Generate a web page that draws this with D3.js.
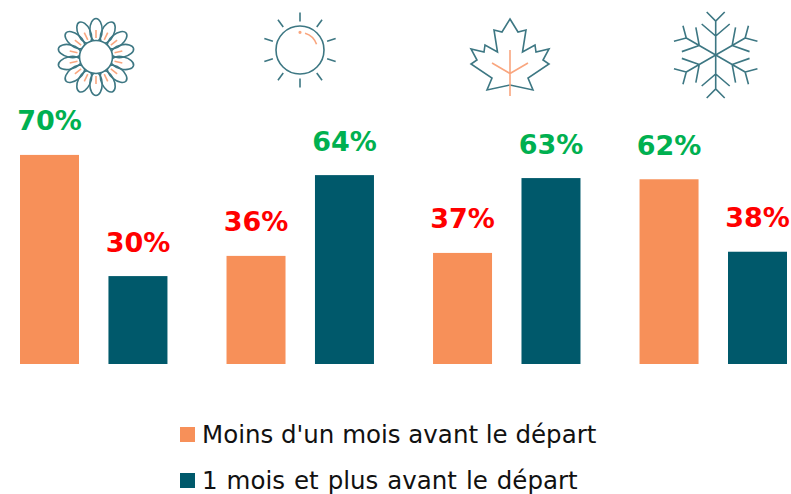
<!DOCTYPE html>
<html lang="fr">
<head>
<meta charset="utf-8">
<style>
  html, body { margin: 0; padding: 0; background: #fff; }
  svg { display: block; }
</style>
<script src="https://cdn.jsdelivr.net/npm/d3@7"></script>
</head>
<body>
<div id="chart"></div>
<script>
const seasons = ['printemps', 'ete', 'automne', 'hiver'];
const series = ['Moins d\'un mois avant le départ', '1 mois et plus avant le départ'];
// the labels show them rounded
const moins_un_mois = [70.4, 36.4, 37.4, 62.2];
const un_mois_et_plus = [29.6, 63.6, 62.6, 37.8];

const width = 791;
const height = 494;
const baseline = 364;
const px_per_percent = 2.97;

const colors = ['#f79059', '#00596b'];
const line_color = '#3d7783';
const accent_color = '#f9a67f';
const label_font = '"DejaVu Sans", sans-serif';

const x_group = d3.scaleBand()
  .domain(seasons)
  .range([20, 787])
  .paddingInner(0.286);
const x_bar = d3.scaleBand()
  .domain(series)
  .range([0, x_group.bandwidth()])
  .paddingInner(0.333);
const y_scale = d3.scaleLinear()
  .domain([0, 100])
  .range([baseline, baseline - 100 * px_per_percent]);

const svg = d3.select('#chart')
  .append('svg')
    .attr('width', width)
    .attr('height', height);

let rows = [];
seasons.forEach((s, i) => {
  rows.push({ season: s, serie: series[0], value: moins_un_mois[i] });
  rows.push({ season: s, serie: series[1], value: un_mois_et_plus[i] });
});

svg.selectAll('rect.bar')
    .data(rows)
  .join('rect')
    .attr('class', 'bar')
    .attr('x', d => x_group(d.season) + x_bar(d.serie))
    .attr('y', d => y_scale(d.value))
    .attr('width', x_bar.bandwidth())
    .attr('height', d => baseline - y_scale(d.value))
    .attr('fill', d => colors[series.indexOf(d.serie)]);

// green for the majority of the season, red for the other one
svg.selectAll('text.value')
    .data(rows)
  .join('text')
    .attr('class', 'value')
    .attr('x', d => x_group(d.season) + x_bar(d.serie) + x_bar.bandwidth() / 2)
    .attr('y', d => y_scale(d.value) - 24.5)
    .attr('text-anchor', 'middle')
    .attr('font-family', label_font)
    .attr('font-weight', 'bold')
    .attr('font-size', 27)
    .attr('fill', d => d.value >= 50 ? '#00b050' : '#ff0000')
    .text(d => Math.round(d.value) + '%');

// legend
const legend = svg.selectAll('g.legend')
    .data(series)
  .join('g')
    .attr('class', 'legend')
    .attr('transform', (d, i) => 'translate(180,' + (427 + i * 46) + ')');
legend.append('rect')
  .attr('width', 15)
  .attr('height', 15)
  .attr('fill', (d, i) => colors[i]);
legend.append('text')
  .attr('x', 22)
  .attr('y', 15.5)
  .attr('font-family', label_font)
  .attr('font-size', 24.5)
  .attr('word-spacing', (d, i) => i ? 1.2 : 0)
  .attr('fill', '#111')
  .text(d => d);

// season icons
let icon = (x, y) => svg.append('g')
  .attr('transform', 'translate(' + x + ',' + y + ')')
  .attr('fill', 'none')
  .attr('stroke', line_color)
  .attr('stroke-width', 1.6);

// flower
const flower = icon(96, 57);
const petals = d3.range(14).map(i => i * 360 / 14);
flower.selectAll('ellipse')
    .data(petals)
  .join('ellipse')
    .attr('cx', 0)
    .attr('cy', -27)
    .attr('rx', 6.2)
    .attr('ry', 11.5)
    .attr('transform', d => 'rotate(' + d + ')');
flower.append('circle')
  .attr('r', 16.5)
  .attr('fill', '#fff');
flower.selectAll('line')
    .data(petals)
  .join('line')
    .attr('y1', -19)
    .attr('y2', -27)
    .attr('stroke', accent_color)
    .attr('transform', d => 'rotate(' + d + ')');

// sun
const sun = icon(300, 50);
sun.append('circle').attr('r', 24);
sun.selectAll('line')
    .data(d3.range(10).map(i => i * 36))
  .join('line')
    .attr('y1', -28.5)
    .attr('y2', -37.5)
    .attr('transform', d => 'rotate(' + d + ')');
sun.append('circle')
  .attr('cy', -17.7)
  .attr('r', 0.8)
  .attr('fill', accent_color)
  .attr('stroke', accent_color);
sun.append('path')
  .attr('d', d3.arc()({
    innerRadius: 17.5,
    outerRadius: 17.5,
    startAngle: 16.7 * Math.PI / 180,
    endAngle: 71 * Math.PI / 180
  }))
  .attr('stroke', accent_color);

// maple leaf, outline
const leaf_outline = [[510, 19], [518, 32], [526, 30], [522.5, 52], [535, 45], [536, 52], [549, 49], [543, 60],
  [549, 64], [528, 78], [533, 90], [510, 85], [487, 90], [492, 78], [471, 64], [477, 60], [471, 49],
  [484, 52], [485, 45], [497.5, 52], [494, 30], [502, 32]];
const leaf = svg.append('g').attr('fill', 'none');
leaf.append('path')
  .attr('d', d3.line()(leaf_outline) + 'Z')
  .attr('stroke', line_color)
  .attr('stroke-width', 1.6);
leaf.append('path')
  .attr('d', 'M510,50V96M492,63L510,73.5L528,63')
  .attr('stroke', accent_color)
  .attr('stroke-width', 1.6);

// snowflake, one arm turned six times
const snow = icon(715.7, 55);
const arm = 'M0,0V-34M-14,-31L0,-19L14,-31M-9,-43L0,-34L9,-43';
snow.selectAll('path')
    .data(d3.range(6).map(i => i * 60))
  .join('path')
    .attr('d', arm)
    .attr('transform', d => 'rotate(' + d + ')');
</script>
</body>
</html>
